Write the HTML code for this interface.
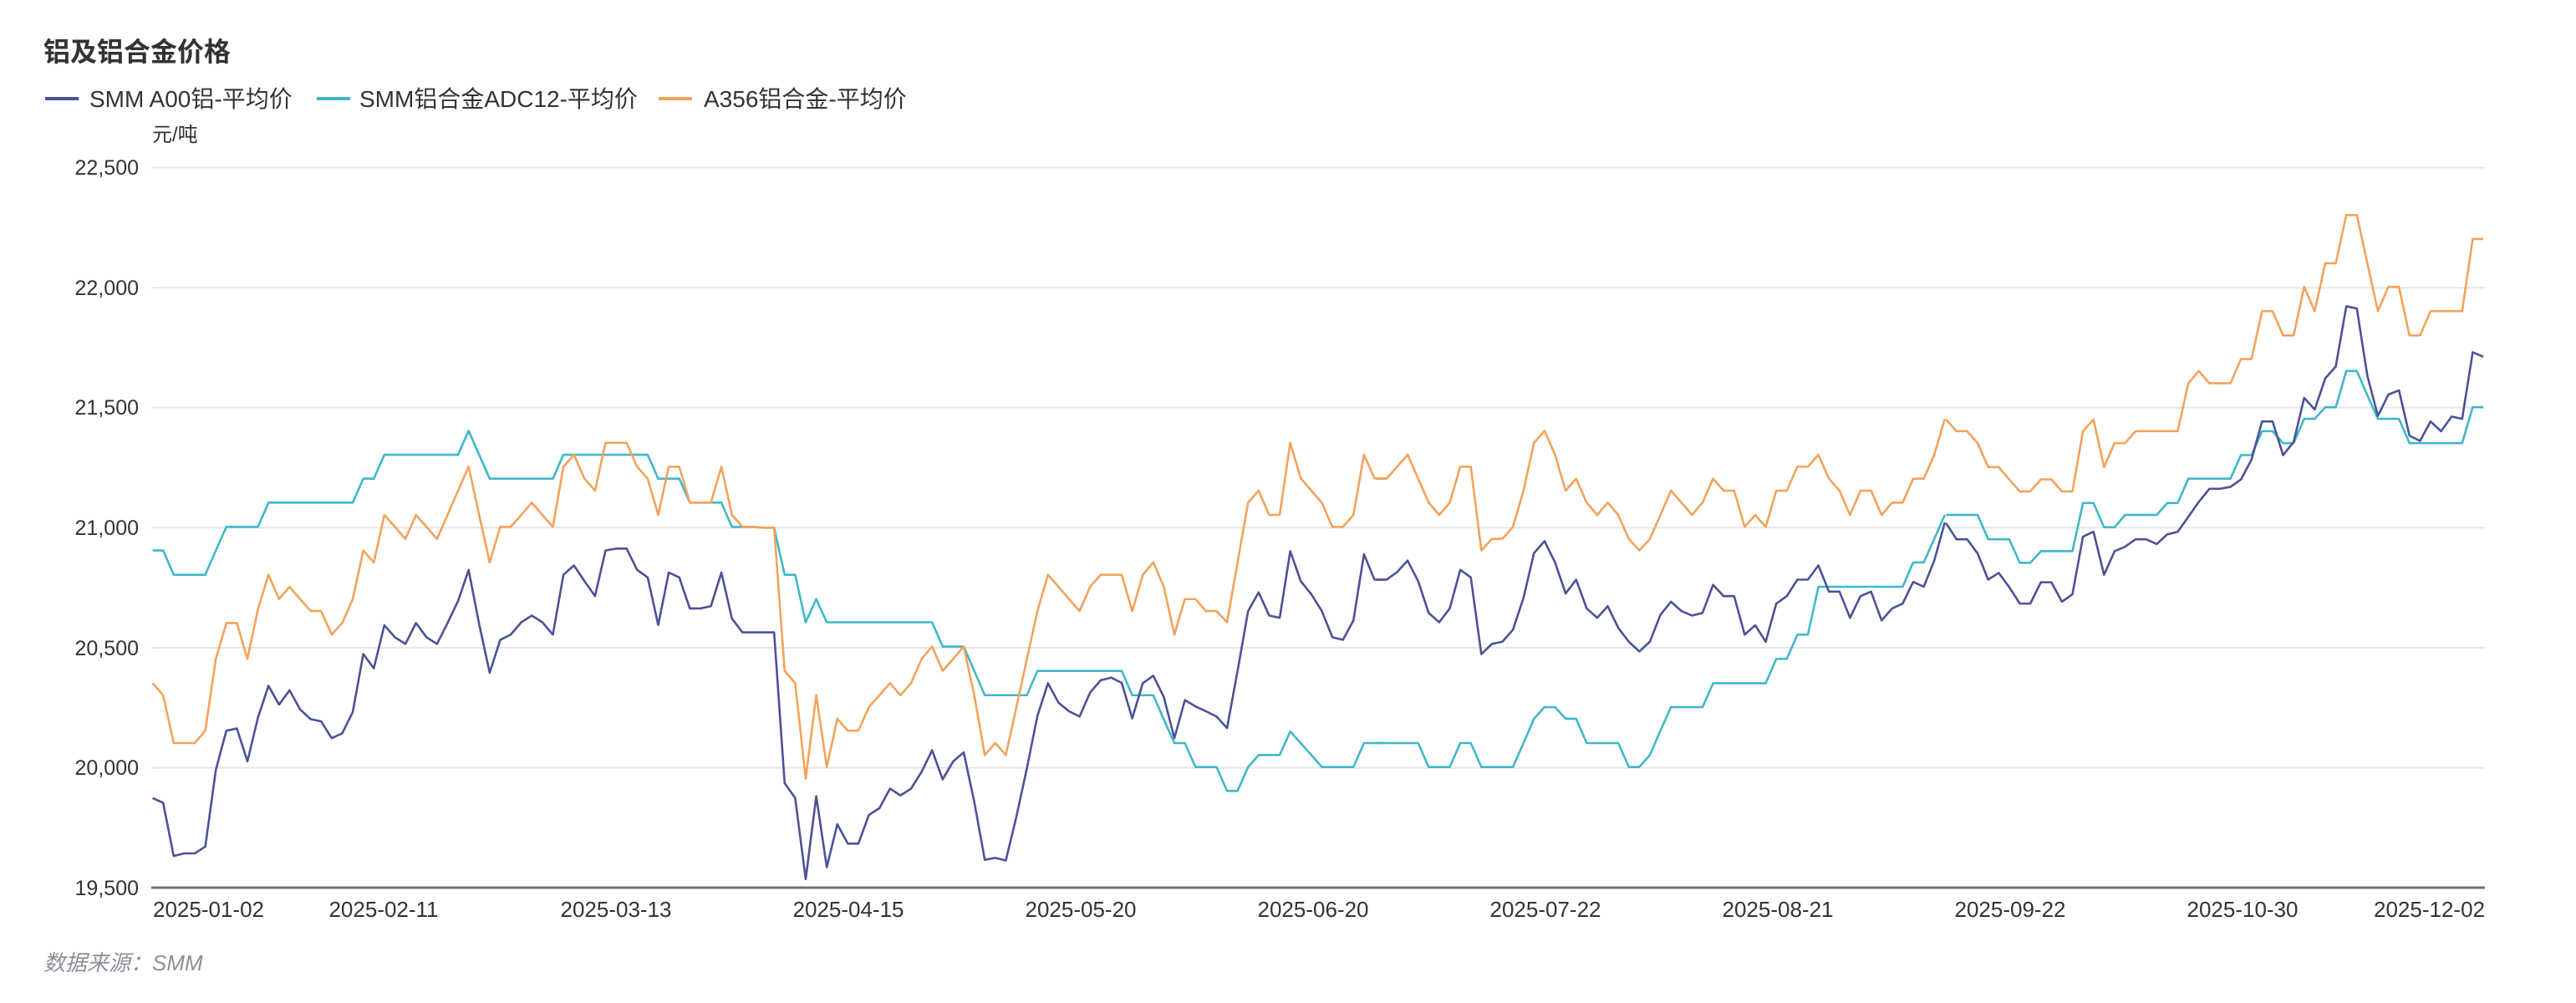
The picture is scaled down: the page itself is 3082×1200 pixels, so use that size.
<!DOCTYPE html>
<html><head><meta charset="utf-8"><style>
html,body{margin:0;padding:0;background:#fff;}
svg{display:block;}
text{font-family:"Liberation Sans","Noto Sans CJK SC",sans-serif;}
</style></head><body>
<svg width="3082" height="1200" viewBox="0 0 3082 1200" xmlns="http://www.w3.org/2000/svg">
<rect width="3082" height="1200" fill="#fff"/>
<text x="52" y="73" font-size="32" font-weight="bold" fill="#333">铝及铝合金价格</text>
<line x1="54" y1="118" x2="94" y2="118" stroke="#4a5396" stroke-width="4"/>
<text x="107" y="128" font-size="28" fill="#333">SMM A00铝-平均价</text>
<line x1="379" y1="118" x2="419" y2="118" stroke="#3fb8c9" stroke-width="4"/>
<text x="430" y="128" font-size="28" fill="#333">SMM铝合金ADC12-平均价</text>
<line x1="788" y1="118" x2="828" y2="118" stroke="#f4a25a" stroke-width="4"/>
<text x="842" y="128" font-size="28" fill="#333">A356铝合金-平均价</text>
<text x="182" y="169" font-size="24" fill="#333">元/吨</text>
<g stroke="#e6e6e6" stroke-width="2">
<line x1="181" y1="200.6" x2="2973" y2="200.6"/>
<line x1="181" y1="344.2" x2="2973" y2="344.2"/>
<line x1="181" y1="487.8" x2="2973" y2="487.8"/>
<line x1="181" y1="631.4" x2="2973" y2="631.4"/>
<line x1="181" y1="775" x2="2973" y2="775"/>
<line x1="181" y1="918.6" x2="2973" y2="918.6"/>
</g>
<line x1="181" y1="1062" x2="2973" y2="1062" stroke="#6e7079" stroke-width="3"/>
<g font-size="25" fill="#333" text-anchor="end">
<text x="166" y="209">22,500</text>
<text x="166" y="353">22,000</text>
<text x="166" y="496">21,500</text>
<text x="166" y="640">21,000</text>
<text x="166" y="784">20,500</text>
<text x="166" y="927">20,000</text>
<text x="166" y="1071">19,500</text>
</g>
<g font-size="26" fill="#333" text-anchor="middle">
<text x="183" y="1097" text-anchor="start">2025-01-02</text>
<text x="459" y="1097">2025-02-11</text>
<text x="737" y="1097">2025-03-13</text>
<text x="1015" y="1097">2025-04-15</text>
<text x="1293" y="1097">2025-05-20</text>
<text x="1571" y="1097">2025-06-20</text>
<text x="1849" y="1097">2025-07-22</text>
<text x="2127" y="1097">2025-08-21</text>
<text x="2405" y="1097">2025-09-22</text>
<text x="2683" y="1097">2025-10-30</text>
<text x="2973" y="1097" text-anchor="end">2025-12-02</text>
</g>
<text x="52" y="1161" font-size="26" font-style="italic" fill="#8a8f99">数据来源：SMM</text>

<g fill="none" stroke-width="2.6" stroke-linejoin="round">
<!-- zoom2 region -->
<g transform="translate(170,400) scale(0.4847,0.4474)">
<polyline vector-effect="non-scaling-stroke" stroke="#3fb8c9" points="26,578 52,578 78,643 104,643 130,643 156,643 182,578 208,515 234,515 260,515 286,515 312,450 338,450 364,450 390,450 416,450 442,450 468,450 494,450 520,450 546,386 572,386 598,322 624,322 650,322 676,322 702,322 728,322 754,322 780,322 806,258 832,322 858,386 884,386 910,386 936,386 962,386 988,386 1014,386 1040,322 1066,322 1092,322 1118,322 1144,322 1170,322 1196,322 1222,322 1248,322 1274,386 1300,386 1326,386 1352,450 1378,450 1404,450 1430,450 1456,515 1482,515 1508,515"/>
<polyline vector-effect="non-scaling-stroke" stroke="#f4a25a" points="26,933 52,965 78,1093 104,1093 130,1093 156,1060 182,868 208,772 234,772 260,868 286,735 312,643 338,708 364,675 390,708 416,740 442,740 468,803 494,772 520,708 546,578 572,610 598,483 624,515 650,547 676,483 702,515 728,547 754,483 780,418 806,354 832,483 858,610 884,515 910,515 936,483 962,450 988,483 1014,515 1040,354 1066,322 1092,386 1118,418 1144,290 1170,290 1196,290 1222,354 1248,386 1274,483 1300,354 1326,354 1352,450 1378,450 1404,450 1430,354 1456,483 1482,515 1508,515"/>
<polyline vector-effect="non-scaling-stroke" stroke="#4a5396" points="26,1240 52,1253 78,1395 104,1388 130,1388 156,1370 182,1165 208,1060 234,1054 260,1142 286,1025 312,940 338,990 364,952 390,1003 416,1029 442,1035 468,1080 494,1067 520,1010 546,855 572,893 598,778 624,810 650,828 676,772 702,810 728,828 754,772 780,713 806,630 832,775 858,905 884,817 910,803 936,770 962,752 988,770 1014,803 1040,643 1066,618 1092,660 1118,700 1144,578 1170,573 1196,573 1222,630 1248,650 1274,777 1300,637 1326,650 1352,733 1378,733 1404,727 1430,637 1456,760 1482,797 1508,797"/>
</g>
<!-- zoom3 region -->
<g transform="translate(900,400) scale(0.4847,0.4474)">
<polyline vector-effect="non-scaling-stroke" stroke="#3fb8c9" points="2,515 28,517 54,517 80,643 106,643 132,770 158,708 184,770 210,770 236,770 262,770 288,770 314,770 340,770 366,770 392,770 418,770 444,770 470,835 496,835 522,835 548,900 574,965 600,965 626,965 652,965 678,965 704,900 730,900 756,900 782,900 808,900 834,900 860,900 886,900 912,900 938,965 964,965 990,965 1016,1030 1042,1093 1068,1093 1094,1157 1120,1157 1146,1157 1172,1221 1198,1221 1224,1157 1250,1125 1276,1125 1302,1125 1328,1062 1354,1093 1380,1125 1406,1157 1432,1157 1458,1157 1484,1157 1510,1093 1536,1093 1562,1093"/>
<polyline vector-effect="non-scaling-stroke" stroke="#f4a25a" points="2,515 28,517 54,517 80,900 106,933 132,1188 158,965 184,1157 210,1028 236,1060 262,1060 288,997 314,965 340,933 366,965 392,933 418,868 444,835 470,900 496,868 522,835 548,965 574,1125 600,1093 626,1125 652,997 678,868 704,740 730,643 756,675 782,708 808,740 834,675 860,643 886,643 912,643 938,740 964,643 990,610 1016,675 1042,803 1068,708 1094,708 1120,740 1146,740 1172,770 1198,610 1224,450 1250,418 1276,483 1302,483 1328,290 1354,385 1380,418 1406,450 1432,515 1458,515 1484,483 1510,322 1536,385 1562,385"/>
<polyline vector-effect="non-scaling-stroke" stroke="#4a5396" points="2,797 28,797 54,797 80,1200 106,1240 132,1457 158,1235 184,1425 210,1310 236,1362 262,1362 288,1285 314,1267 340,1215 366,1233 392,1215 418,1170 444,1112 470,1190 496,1142 522,1118 548,1250 574,1405 600,1400 626,1407 652,1290 678,1160 704,1020 730,933 756,985 782,1008 808,1022 834,958 860,925 886,918 912,932 938,1027 964,933 990,913 1016,970 1042,1080 1068,978 1094,995 1120,1008 1146,1022 1172,1053 1198,900 1224,740 1250,690 1276,752 1302,758 1328,580 1354,660 1380,695 1406,740 1432,810 1458,817 1484,765 1510,588 1536,656 1562,656"/>
</g>
<!-- zoom4 region -->
<g transform="translate(1640,400) scale(0.4847,0.4474)">
<polyline vector-effect="non-scaling-stroke" stroke="#3fb8c9" points="13,1093 39,1093 65,1093 91,1093 117,1093 143,1157 169,1157 195,1157 221,1093 247,1093 273,1157 299,1157 325,1157 351,1157 377,1093 403,1028 429,997 455,997 481,1028 507,1028 533,1093 559,1093 585,1093 611,1093 637,1157 663,1157 689,1125 715,1060 741,997 767,997 793,997 819,997 845,933 871,933 897,933 923,933 949,933 975,933 1001,868 1027,868 1053,803 1079,803 1105,675 1131,675 1157,675 1183,675 1209,675 1235,675 1261,675 1287,675 1313,675 1339,610 1365,610 1391,547 1417,483"/>
<polyline vector-effect="non-scaling-stroke" stroke="#f4a25a" points="13,386 39,386 65,354 91,322 117,386 143,450 169,483 195,450 221,354 247,354 273,578 299,547 325,547 351,515 377,418 403,290 429,258 455,322 481,418 507,386 533,450 559,483 585,450 611,483 637,547 663,578 689,547 715,483 741,418 767,450 793,483 819,450 845,386 871,418 897,418 923,515 949,483 975,515 1001,418 1027,418 1053,354 1079,354 1105,322 1131,386 1157,418 1183,483 1209,418 1235,418 1261,483 1287,450 1313,450 1339,386 1365,386 1391,322 1417,226"/>
<polyline vector-effect="non-scaling-stroke" stroke="#4a5396" points="13,656 39,656 65,636 91,605 117,660 143,745 169,770 195,733 221,630 247,650 273,855 299,828 325,822 351,790 377,705 403,585 429,553 455,610 481,693 507,656 533,733 559,758 585,727 611,785 637,822 663,848 689,822 715,750 741,715 767,740 793,752 819,745 845,670 871,700 897,700 923,803 949,778 975,822 1001,720 1027,700 1053,656 1079,656 1105,618 1131,688 1157,688 1183,758 1209,700 1235,688 1261,765 1287,733 1313,720 1339,662 1365,675 1391,605 1417,503"/>
</g>
<!-- zoom5 region -->
<g transform="translate(2322,200) scale(0.4847,0.4474)">
<polyline vector-effect="non-scaling-stroke" stroke="#3fb8c9" points="13,930 39,930 65,930 91,930 117,995 143,995 169,995 195,1058 221,1058 247,1027 273,1027 299,1027 325,1027 351,898 377,898 403,963 429,963 455,930 481,930 507,930 533,930 559,898 585,898 611,833 637,833 663,833 689,833 715,833 741,770 767,770 793,706 819,706 845,738 871,738 897,673 923,673 949,642 975,642 1001,545 1027,545 1053,610 1079,673 1105,673 1131,673 1157,738 1183,738 1209,738 1235,738 1261,738 1287,738 1313,642 1339,642"/>
<polyline vector-effect="non-scaling-stroke" stroke="#f4a25a" points="13,675 39,706 65,706 91,738 117,802 143,802 169,835 195,867 221,867 247,835 273,835 299,867 325,867 351,706 377,675 403,802 429,738 455,738 481,706 507,706 533,706 559,706 585,706 611,578 637,545 663,578 689,578 715,578 741,513 767,513 793,385 819,385 845,450 871,450 897,320 923,385 949,257 975,257 1001,128 1027,128 1053,257 1079,385 1105,320 1131,320 1157,450 1183,450 1209,385 1235,385 1261,385 1287,385 1313,192 1339,192"/>
<polyline vector-effect="non-scaling-stroke" stroke="#4a5396" points="13,952 39,995 65,995 91,1033 117,1103 143,1085 169,1123 195,1167 221,1167 247,1110 273,1110 299,1162 325,1142 351,988 377,975 403,1090 429,1027 455,1015 481,995 507,995 533,1008 559,982 585,975 611,935 637,895 663,860 689,860 715,855 741,835 767,782 793,680 819,680 845,770 871,735 897,617 923,648 949,565 975,533 1001,372 1027,378 1053,558 1079,665 1105,608 1131,597 1157,718 1183,732 1209,680 1235,706 1261,667 1287,673 1313,495 1339,507"/>
</g>
</g>
</svg>
</body></html>
